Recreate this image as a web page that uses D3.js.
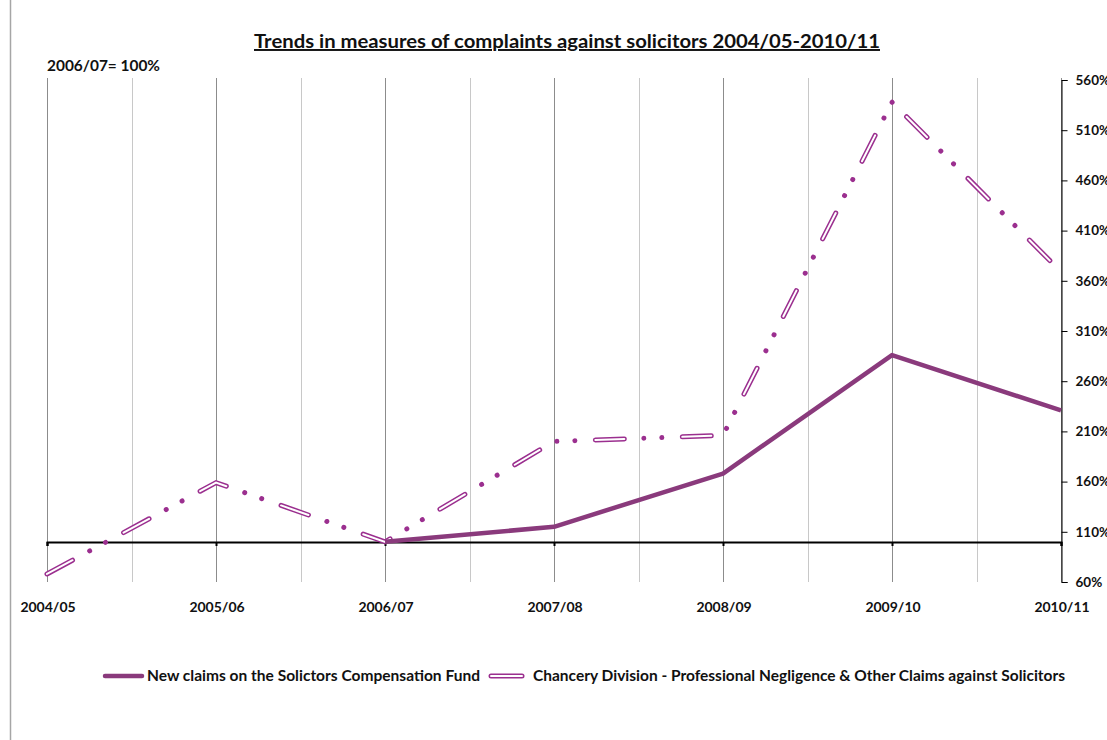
<!DOCTYPE html>
<html>
<head>
<meta charset="utf-8">
<script src="https://d3js.org/d3.v7.min.js"></script>
<style>
  body { margin: 0; background: #fff; }
  text { font-family: "Lato", "Open Sans", sans-serif; font-weight: bold; fill: #111; }
</style>
</head>
<body>
<div id="chart"></div>
<script>
var svgWidth = 1107;
var svgHeight = 740;

// data (2006/07 = 100%)
var years = ["2004/05", "2005/06", "2006/07", "2007/08", "2008/09", "2009/10", "2010/11"];
var compensationFund = [null, null, 100, 115, 168, 286, 231];
var chanceryClaims = [68, 159, 100, 200, 206, 538, 369];
var yTicks = [60, 110, 160, 210, 260, 310, 360, 410, 460, 510, 560];

var seriesNames = [
  "New claims on the Solictors Compensation Fund",
  "Chancery Division - Professional Negligence & Other Claims against Solicitors"
];

var solidColor = "#8a3a7c";
var dashColor = "#9b2f8f";

var plot = { left: 47, right: 1061, top: 80, bottom: 582 };

var svg = d3.select("#chart")
  .append("svg")
  .attr("width", svgWidth)
  .attr("height", svgHeight);

// chart border (only the left edge is in view)
svg.append("line")
  .attr("x1", 10.5).attr("x2", 10.5)
  .attr("y1", 0).attr("y2", svgHeight)
  .attr("stroke", "#a6a6a6")
  .attr("stroke-width", 1.5);

var xScale = d3.scalePoint()
  .domain(years)
  .range([plot.left, plot.right]);

var yScale = d3.scaleLinear()
  .domain([60, 560])
  .range([plot.bottom, plot.top]);

// vertical gridlines: major at categories, minor half way between
var step = xScale.step();
var minorX = years.slice(0, -1).map(d => xScale(d) + step / 2);

svg.append("g")
  .selectAll("line")
  .data(minorX)
  .enter()
  .append("line")
  .attr("x1", d => Math.round(d) + 0.5)
  .attr("x2", d => Math.round(d) + 0.5)
  .attr("y1", yScale(560) - 2)
  .attr("y2", yScale(60))
  .attr("stroke", "#c8c8c8");

svg.append("g")
  .selectAll("line")
  .data(years)
  .enter()
  .append("line")
  .attr("x1", d => Math.round(xScale(d)) + 0.5)
  .attr("x2", d => Math.round(xScale(d)) + 0.5)
  .attr("y1", yScale(560) - 2)
  .attr("y2", yScale(60))
  .attr("stroke", "#8c8c8c");

// right hand value axis
var rightAxis = d3.axisRight(yScale)
  .tickValues(yTicks)
  .tickFormat(d => d + "%")
  .tickSize(6)
  .tickPadding(8);

var yAxis = svg.append("g")
  .attr("transform", `translate(${plot.right + 0.5}, 0)`)
  .call(rightAxis);

yAxis.select(".domain").attr("stroke", "#000");
yAxis.selectAll(".tick line").attr("stroke", "#000");
yAxis.selectAll(".tick text")
  .attr("font-size", "13.5px")
  .attr("font-family", "Lato, sans-serif")
  .attr("font-weight", "bold")
  .attr("fill", "#111");

// category axis crossing at 100%
var bottomAxis = d3.axisBottom(xScale)
  .tickSize(4)
  .tickFormat("");

var xAxis = svg.append("g")
  .attr("transform", `translate(0, ${Math.round(yScale(100))})`)
  .call(bottomAxis);

xAxis.select(".domain").attr("stroke", "#000").attr("stroke-width", 2);
xAxis.selectAll(".tick line").attr("stroke", "#000").attr("stroke-width", 2);

// category labels below the plot
svg.append("g")
  .selectAll("text")
  .data(years)
  .enter()
  .append("text")
  .attr("x", d => xScale(d) + 1)
  .attr("y", 612)
  .attr("text-anchor", "middle")
  .attr("font-size", "14px")
  .text(d => d);

// lines
var lineGen = d3.line()
  .defined(d => d.v != null)
  .x(d => xScale(d.year))
  .y(d => yScale(d.v));

var fundData = years.map((y, i) => ({ year: y, v: compensationFund[i] }));
var chanceryData = years.map((y, i) => ({ year: y, v: chanceryClaims[i] }));

// chancery: long dash dot dot, drawn as a hollow double line
svg.append("path")
  .datum(chanceryData)
  .attr("d", lineGen)
  .attr("fill", "none")
  .attr("stroke", dashColor)
  .attr("stroke-width", 5)
  .attr("stroke-linecap", "round")
  .attr("stroke-dasharray", "29 19.5 0.01 18 0.01 20.5");

svg.append("path")
  .datum(chanceryData)
  .attr("d", lineGen)
  .attr("fill", "none")
  .attr("stroke", "#fff")
  .attr("stroke-width", 2)
  .attr("stroke-linecap", "round")
  .attr("stroke-dasharray", "29 58.02");

svg.append("path")
  .datum(fundData)
  .attr("d", lineGen)
  .attr("fill", "none")
  .attr("stroke", solidColor)
  .attr("stroke-width", 4.5)
  .attr("stroke-linejoin", "round");

// title
svg.append("text")
  .attr("x", 567)
  .attr("y", 48)
  .attr("text-anchor", "middle")
  .attr("font-size", "19.5px")
  .attr("textLength", 626)
  .attr("lengthAdjust", "spacingAndGlyphs")
  .attr("text-decoration", "underline")
  .text("Trends in measures of complaints against solicitors 2004/05-2010/11");

svg.append("text")
  .attr("x", 47)
  .attr("y", 71)
  .attr("font-size", "15px")
  .attr("textLength", 113)
  .attr("lengthAdjust", "spacingAndGlyphs")
  .text("2006/07= 100%");

// legend
var legendY = 676;

svg.append("line")
  .attr("x1", 105).attr("x2", 142)
  .attr("y1", legendY).attr("y2", legendY)
  .attr("stroke", solidColor)
  .attr("stroke-width", 4.5)
  .attr("stroke-linecap", "round");

svg.append("text")
  .attr("x", 147)
  .attr("y", legendY + 5)
  .attr("font-size", "14.5px")
  .attr("textLength", 333)
  .attr("lengthAdjust", "spacingAndGlyphs")
  .text(seriesNames[0]);

svg.append("line")
  .attr("x1", 491).attr("x2", 522)
  .attr("y1", legendY).attr("y2", legendY)
  .attr("stroke", dashColor)
  .attr("stroke-width", 5)
  .attr("stroke-linecap", "round");

svg.append("line")
  .attr("x1", 491).attr("x2", 522)
  .attr("y1", legendY).attr("y2", legendY)
  .attr("stroke", "#fff")
  .attr("stroke-width", 2)
  .attr("stroke-linecap", "round");

svg.append("text")
  .attr("x", 533)
  .attr("y", legendY + 5)
  .attr("font-size", "14.5px")
  .attr("textLength", 532)
  .attr("lengthAdjust", "spacingAndGlyphs")
  .text(seriesNames[1]);
</script>
</body>
</html>
